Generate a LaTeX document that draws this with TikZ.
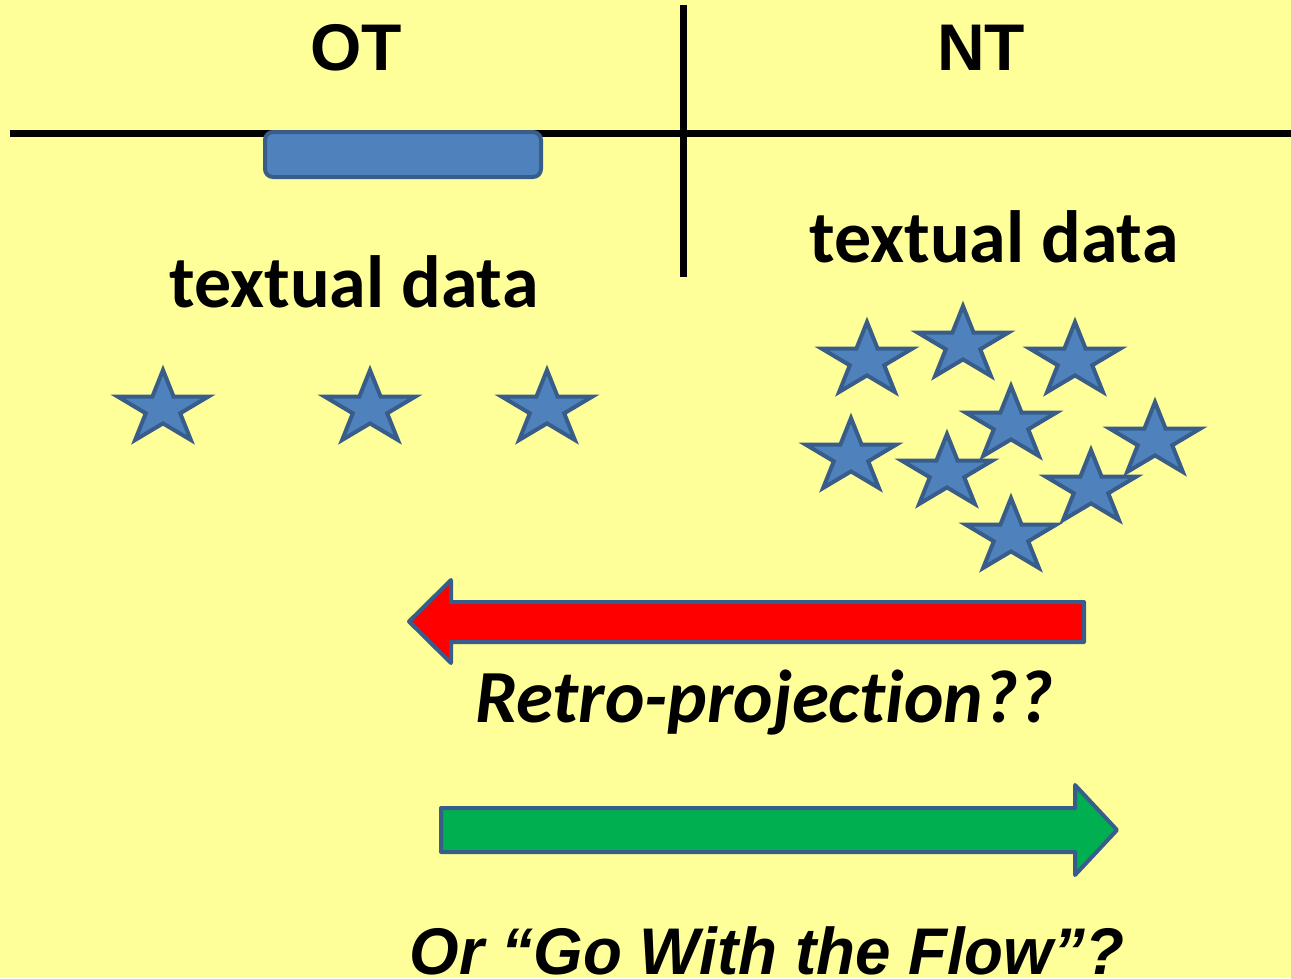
\documentclass[tikz,border=0pt]{standalone}
\usepackage{fontspec}
\setmainfont{Carlito}[RawFeature=-liga]
\newfontfamily\arialfont{Liberation Sans}
\definecolor{slideyellow}{HTML}{FFFF99}
\definecolor{starblue}{HTML}{4F81BD}
\definecolor{edgeblue}{HTML}{385D8A}
\definecolor{flowgreen}{HTML}{00B050}
\tikzset{
  bigtext/.style={font=\fontsize{74}{88}\selectfont\bfseries, anchor=base, inner sep=0pt},
  headtext/.style={font=\arialfont\fontsize{66}{80}\selectfont\bfseries, anchor=base, inner sep=0pt},
  blockarrow/.style={draw=edgeblue, line width=4pt, line join=round},
  pics/bluestar/.style={code={
    \draw[fill=starblue, draw=edgeblue, line width=4pt, scale=0.92]
      (0,-38) -- (11.6,-9) -- (49,-9) -- (18.7,9) -- (30.3,38) -- (0,20)
      -- (-30.3,38) -- (-18.7,9) -- (-49,-9) -- (-11.6,-9) -- cycle;
  }}
}
\begin{document}
\begin{tikzpicture}[x=1pt, y=-1pt]
    \useasboundingbox (0,0) rectangle (1291,978);
    \fill[slideyellow] (0,0) rectangle (1291,978);
    % time line
    \draw[line width=7pt] (10,133.5) -- (1291,133.5);
    \draw[line width=7pt] (683,5) -- (683,277);
    \draw[fill=starblue, draw=edgeblue, line width=4pt, rounded corners=8pt] (265,132) rectangle (541,177);
    \node[headtext] (ot) at (356,70) {OT};
    \node[headtext] (nt) at (981,70) {NT};
    \node[bigtext] (otdata) at (354,307) {textual data};
    \node[bigtext] (ntdata) at (994,262) {textual data};
    % stars
    \foreach \sx/\sy in {163/405, 370/405, 547/405}
        \pic at (\sx,\sy) {bluestar};
    \foreach \sx/\sy in {867/357, 963/341, 1075/357, 851/453, 1011/421, 947/469, 1155/437, 1091/485, 1011/533}
        \pic at (\sx,\sy) {bluestar};
    % arrows
    \draw[blockarrow, fill=red] (1084,602) -- (451,602) -- (451,580) -- (409,621.5)
        -- (451,663) -- (451,642) -- (1084,642) -- cycle;
    \node[bigtext, font=\fontsize{75}{90}\selectfont\bfseries\itshape] (retro) at (764,722) {Retro-projection??};
    \draw[blockarrow, fill=flowgreen] (441,808) -- (1075,808) -- (1075,785) -- (1117,830)
        -- (1075,875) -- (1075,852) -- (441,852) -- cycle;
    \node[headtext, font=\arialfont\fontsize{66}{80}\selectfont\bfseries\itshape, xscale=0.965] (flow) at (767,974) {Or “Go With the Flow”?};
\end{tikzpicture}
\end{document}
